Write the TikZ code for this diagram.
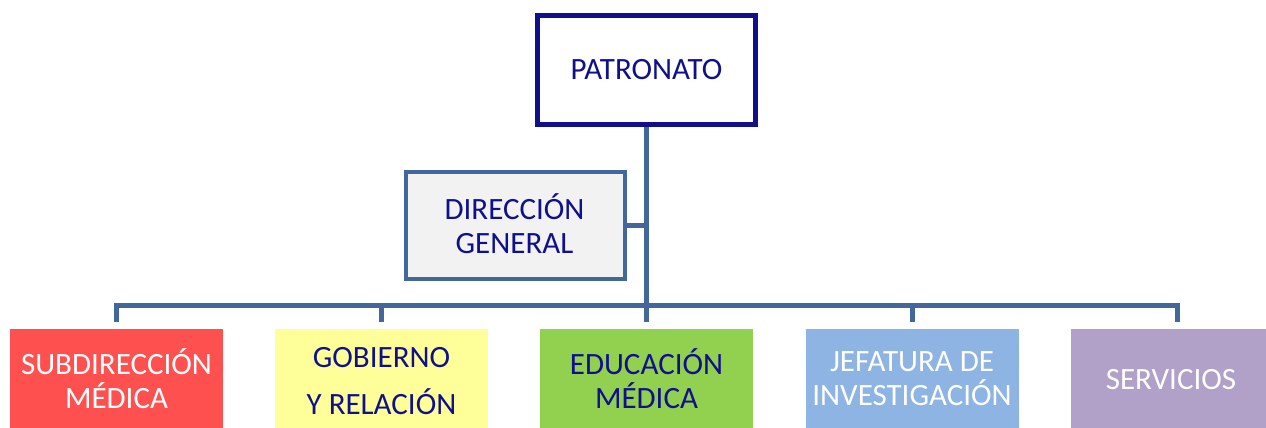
\documentclass[tikz,border=0pt]{standalone}
\usepackage{fontspec}
\setmainfont{Carlito}
\definecolor{navy}{RGB}{16,16,140}
\definecolor{conn}{RGB}{66,103,154}
\definecolor{dgfill}{RGB}{242,242,242}
\definecolor{cred}{RGB}{255,80,80}
\definecolor{cyel}{RGB}{255,255,153}
\definecolor{cgreen}{RGB}{146,208,80}
\definecolor{cblue}{RGB}{141,180,226}
\definecolor{cpurp}{RGB}{177,160,199}
\tikzset{
  txt/.style={font=\fontsize{31}{34}\selectfont, align=center},
  lowbox/.style={txt, minimum width=213pt, minimum height=110pt, anchor=north, inner sep=0pt, text depth=0pt},
  connline/.style={draw=conn, line width=5pt},
}
\begin{document}
\begin{tikzpicture}[x=1pt,y=-1pt]
\useasboundingbox (0,0) rectangle (1266,428);
\clip (0,0) rectangle (1266,428);
\node[draw=navy, line width=5pt, fill=white, minimum width=218pt, minimum height=109pt, txt, text=navy] (pat) at (646.5,70) {PATRONATO};
\node[draw=conn, line width=4pt, fill=dgfill, minimum width=219pt, minimum height=107pt, draw] (dg) at (515.5,225.5) {};
\node[txt, text=navy] (dgt) at (514.5,224) {DIRECCIÓN\\GENERAL};
\coordinate (bar) at (646.5,305);
\node[lowbox, fill=cred, text=white] (sub) at (116.5,329) {};
\node[txt, text=white] (subt) at (116.5,379) {SUBDIRECCIÓN\\MÉDICA};
\node[lowbox, fill=cyel] (gob) at (381.5,329) {};
\node[txt, text=navy, font=\fontsize{31}{47}\selectfont] (gobt) at (381.5,381) {GOBIERNO\\Y RELACIÓN};
\node[lowbox, fill=cgreen] (edu) at (646.5,329) {};
\node[txt, text=navy] (edut) at (646.5,378.5) {EDUCACIÓN\\MÉDICA};
\node[lowbox, fill=cblue] (jef) at (912,329) {};
\node[txt, text=white] (jeft) at (912,378.5) {JEFATURA DE\\INVESTIGACIÓN};
\node[lowbox, fill=cpurp] (serv) at (1177.5,329) {};
\node[txt, text=white] (servt) at (1171,380) {SERVICIOS};
\draw[connline] (pat.south) -- ([yshift=7pt]edu.north);
\draw[connline] (dg.east) -- (dg.east -| pat.south);
\draw[connline] ([yshift=7pt]sub.north) |- (bar -| serv.north) -- ([yshift=7pt]serv.north);
\draw[connline] (bar -| gob.north) -- ([yshift=7pt]gob.north);
\draw[connline] (bar -| jef.north) -- ([yshift=7pt]jef.north);
\end{tikzpicture}
\end{document}
